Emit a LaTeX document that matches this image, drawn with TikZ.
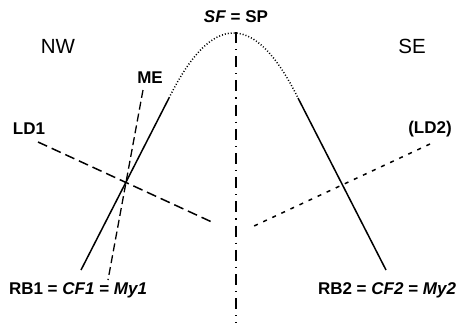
\documentclass[tikz,border=0pt]{standalone}
\usepackage{fontspec}
\setmainfont{Liberation Sans}
\usetikzlibrary{positioning}

\begin{document}
\begin{tikzpicture}[
    x=1pt, y=-1pt,
    lbl/.style={font=\fontsize{17}{19}\selectfont\bfseries, inner sep=0pt},
    area/.style={font=\fontsize{20.5}{22}\selectfont, inner sep=0pt},
    limb/.style={line width=1.5pt},
    crest/.style={line width=1.5pt, dash pattern=on 1pt off 2pt},
    axial/.style={line width=1.5pt, dash pattern=on 11pt off 6pt on 1.2pt off 6pt},
    ldone/.style={line width=1.5pt, dash pattern=on 10pt off 5pt},
    metrace/.style={line width=1.3pt, dash pattern=on 8pt off 4pt},
    ldtwo/.style={line width=1.5pt, dash pattern=on 4pt off 6pt}
]
\useasboundingbox (0,0) rectangle (457,325);

% Hinge and limb ends
\coordinate (hingeW) at (169,98);
\coordinate (hingeE) at (298,98);
\coordinate (footW) at (81,270);
\coordinate (footE) at (386,270);
\coordinate (axtop) at (236,32);
\coordinate (axbot) at (236,323);

% Labels
\node[lbl] (sfsp) at (236,17) {\textit{SF} = SP};
\node[area] (nw) at (58,46) {NW};
\node[area] (se) at (412,46) {SE};
\node[lbl] (me) at (150,78) {ME};
\node[lbl] (ldone) at (29,129) {LD1};
\node[lbl] (ldtwo) at (430,129) {(LD2)};
\node[lbl] (rbone) at (78,290) {RB1 = \textit{CF1} = \textit{My1}};
\node[lbl] (rbtwo) at (387,290) {RB2 = \textit{CF2} = \textit{My2}};

% Fold
\draw[crest] (hingeW) .. controls (212,11.3) and (255,11.3) .. (hingeE);
\draw[limb] (hingeW) -- (footW);
\draw[limb] (hingeE) -- (footE);
\draw[axial] (axtop) -- (axbot);

% Traces
\coordinate (ldoneA) at (38,142);
\coordinate (ldoneB) at (214,223);
\coordinate (meA) at (143,90);
\coordinate (meB) at (108,280);
\coordinate (ldtwoA) at (430,144);
\coordinate (ldtwoB) at (254,226);
\draw[ldone] (ldoneA) -- (ldoneB);
\draw[metrace] (meA) -- (meB);
\draw[ldtwo] (ldtwoA) -- (ldtwoB);

\end{tikzpicture}
\end{document}
